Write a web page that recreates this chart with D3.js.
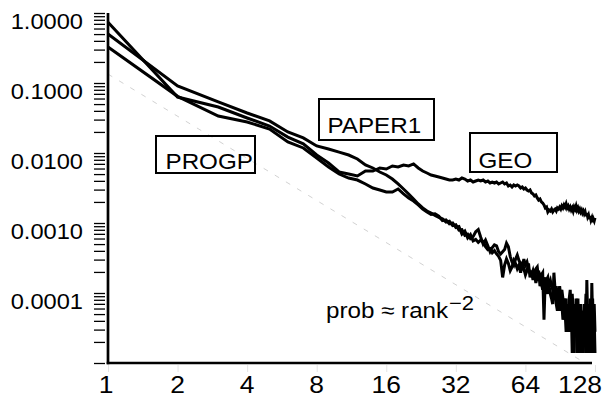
<!DOCTYPE html>
<html>
<head>
<meta charset="utf-8">
<script src="https://cdn.jsdelivr.net/npm/d3@7"></script>
<style>
  body { margin: 0; background: #fff; }
  text { font-family: "Liberation Sans", Arial, Helvetica, sans-serif; fill: #000; }
</style>
</head>
<body>
<svg id="chart" width="607" height="407"></svg>
<script>
// rank 1..128
const ranks = d3.range(1, 129);

const xTicks = [1, 2, 4, 8, 16, 32, 64, 128];
const yDecades = [1, 0.1, 0.01, 0.001, 0.0001];
const yTickLabels = ['1.0000', '0.1000', '0.0100', '0.0010', '0.0001'];

// prob ≈ rank^-2 guide
const refRank = [1, 116];
const refProb = [0.134, 1.0e-5];

const geo = [
  0.74, 0.063, 0.0454, 0.0316, 0.0243, 0.0169, 0.0135, 0.00936, 0.0072, 0.00535,
  0.00501, 0.00469, 0.00553, 0.00553, 0.00611, 0.00591, 0.00652, 0.00631, 0.00674, 0.00652,
  0.00697, 0.00611, 0.00553, 0.00518, 0.00485, 0.00469, 0.00454, 0.00439, 0.00425, 0.00411,
  0.00411, 0.00425, 0.00411, 0.00439, 0.00425, 0.00398, 0.00411, 0.00385, 0.00398, 0.00411,
  0.00398, 0.00411, 0.00385, 0.00398, 0.00373, 0.00385, 0.00373, 0.00385, 0.00361, 0.00373,
  0.00385, 0.00361, 0.00373, 0.00338, 0.00349, 0.00327, 0.00349, 0.00338, 0.00349, 0.00338,
  0.00316, 0.00327, 0.00306, 0.00316, 0.00296, 0.00287, 0.00296, 0.00268, 0.0026, 0.00243,
  0.00251, 0.00228, 0.00213, 0.0022, 0.002, 0.00193, 0.00181, 0.00164, 0.00169, 0.00144,
  0.00153, 0.00148, 0.00158, 0.00144, 0.00153, 0.00158, 0.00148, 0.00164, 0.00158, 0.00169,
  0.00158, 0.00175, 0.00164, 0.00181, 0.00169, 0.00187, 0.00164, 0.00175, 0.00158, 0.00169,
  0.00153, 0.00164, 0.00148, 0.00169, 0.00158, 0.00175, 0.00153, 0.00164, 0.00148, 0.00158,
  0.00144, 0.00153, 0.00139, 0.00148, 0.00135, 0.00144, 0.00126, 0.00139, 0.00122, 0.0013,
  0.00114, 0.00126, 0.0011, 0.00118, 0.00103, 0.00114, 0.00107, 0.00118
];

const paper1 = [
  0.501, 0.0906, 0.0536, 0.0373, 0.0287, 0.02, 0.0164, 0.0126, 0.0114, 0.0103,
  0.00936, 0.00821, 0.00674, 0.00611, 0.00535, 0.00485, 0.00425, 0.00361, 0.00306, 0.0026,
  0.0022, 0.00187, 0.00164, 0.00148, 1.39e-3, 1.28e-3, 1.20e-3, 1.15e-3, 1.03e-3, 1.06e-3,
  9.17e-4, 9.45e-4, 7.92e-4, 8.06e-4, 6.67e-4, 6.95e-4, 5.98e-4, 6.39e-4, 7.51e-4, 8.06e-4,
  6.26e-4, 5.00e-4, 5.70e-4, 4.73e-4, 3.89e-4, 4.45e-4, 4.87e-4, 4.73e-4, 3.89e-4, 3.61e-4,
  3.89e-4, 4.17e-4, 5.14e-4, 4.59e-4, 3.34e-4, 2.78e-4, 2.50e-4, 3.06e-4, 3.48e-4, 2.92e-4,
  2.64e-4, 2.36e-4, 3.06e-4, 2.50e-4, 2.78e-4, 2.22e-4, 1.95e-4, 1.81e-4, 2.09e-4, 1.67e-4,
  2.22e-4, 2.36e-4, 1.53e-4, 1.95e-4, 1.39e-4, 1.11e-4, 1.67e-4, 1.25e-4, 1.53e-4, 1.67e-4,
  1.25e-4, 9.73e-5, 8.34e-5, 6.95e-5, 1.95e-4, 1.11e-4, 6.95e-5, 5.56e-5, 9.73e-5, 1.25e-4,
  8.34e-5, 6.95e-5, 4.17e-5, 8.34e-5, 5.56e-5, 2.78e-5, 6.95e-5, 2.78e-5, 8.34e-5, 1.11e-4,
  4.17e-5, 9.73e-5, 5.56e-5, 1.39e-5, 6.95e-5, 2.78e-5, 5.56e-5, 8.34e-5, 1.39e-5, 4.17e-5,
  6.95e-5, 2.78e-5, 5.56e-5, 1.39e-5, 6.95e-5, 4.17e-5, 9.73e-5, 2.78e-5, 1.39e-5, 5.56e-5,
  2.78e-5, 8.34e-5, 1.39e-5, 1.39e-4, 4.17e-5, 1.39e-5, 6.95e-5, 2.78e-5
];

const progp = [
  0.327, 0.0645, 0.0338, 0.0277, 0.022, 0.0144, 0.0118, 0.00848, 0.00631, 0.00501,
  0.00439, 0.00411, 0.00361, 0.00316, 0.00296, 0.00277, 0.00277, 0.00306, 0.0026, 0.00228,
  0.00206, 0.00181, 0.00158, 0.00144, 1.33e-3, 1.35e-3, 1.25e-3, 1.08e-3, 1.11e-3, 9.73e-4,
  1.00e-3, 8.62e-4, 8.90e-4, 6.95e-4, 7.65e-4, 6.12e-4, 6.81e-4, 5.56e-4, 5.84e-4, 5.28e-4,
  5.70e-4, 5.42e-4, 4.59e-4, 4.17e-4, 4.31e-4, 3.75e-4, 4.03e-4, 3.61e-4, 3.34e-4, 2.92e-4,
  1.67e-4, 2.50e-4, 3.06e-4, 2.64e-4, 2.09e-4, 2.36e-4, 2.92e-4, 2.64e-4, 2.22e-4, 2.50e-4,
  1.95e-4, 2.78e-4, 2.22e-4, 1.81e-4, 2.09e-4, 2.64e-4, 1.67e-4, 2.09e-4, 1.53e-4, 1.95e-4,
  1.39e-4, 1.67e-4, 2.09e-4, 1.25e-4, 1.81e-4, 1.95e-4, 4.17e-5, 1.67e-4, 1.11e-4, 9.73e-5,
  1.39e-4, 1.53e-4, 1.25e-4, 1.11e-4, 8.34e-5, 9.73e-5, 1.25e-4, 8.34e-5, 6.95e-5, 5.56e-5,
  9.73e-5, 1.11e-4, 8.34e-5, 4.17e-5, 6.95e-5, 8.34e-5, 2.78e-5, 5.56e-5, 4.17e-5, 2.78e-5,
  6.95e-5, 1.39e-5, 4.17e-5, 6.95e-5, 2.78e-5, 8.34e-5, 1.39e-5, 4.17e-5, 5.56e-5, 1.39e-5,
  2.78e-5, 5.56e-5, 1.39e-5, 4.17e-5, 2.78e-5, 6.95e-5, 1.39e-5, 1.53e-4, 4.17e-5, 1.39e-5,
  6.95e-5, 2.78e-5, 5.56e-5, 1.39e-5, 8.34e-5, 2.78e-5, 4.17e-5, 1.39e-5
];

const svg = d3.select('#chart');
const SX = 1.1; // glyphs in the original are a bit wide

const x = d3.scaleLog().base(2).domain([1, 128]).range([108, 595]);
const y = d3.scaleLog().domain([1e-5, 1]).range([363, 13]);

function label(str, px, py, size, anchor) {
  return svg.append('text')
    .attr('transform', `translate(${px},${py}) scale(${SX},1)`)
    .attr('font-size', size)
    .attr('text-anchor', anchor || 'start')
    .text(str);
}

// guide line
svg.append('path')
  .datum(refRank.map((r, i) => [r, refProb[i]]))
  .attr('fill', 'none')
  .attr('stroke', '#d2d2d2')
  .attr('stroke-width', 1)
  .attr('stroke-dasharray', '5,8')
  .attr('d', d3.line().x(d => x(d[0])).y(d => y(d[1])));

// y ticks (log minor ticks)
const yAxisG = svg.append('g')
  .attr('transform', 'translate(105,0)')
  .call(d3.axisLeft(y).tickValues(y.ticks()).tickSize(11).tickFormat(''));
yAxisG.select('.domain').remove();
yAxisG.selectAll('.tick line').attr('stroke', '#000').attr('stroke-width', 1.3);

// faint x ticks under the axis
const xAxisG = svg.append('g')
  .attr('transform', 'translate(0,365)')
  .call(d3.axisBottom(x).tickValues(xTicks).tickSize(7).tickFormat(''));
xAxisG.select('.domain').remove();
xAxisG.selectAll('.tick line').attr('stroke', '#e4e4e4');

// axis lines
svg.append('line').attr('x1', 108).attr('x2', 108).attr('y1', y(1)).attr('y2', 364.3)
  .attr('stroke', '#000').attr('stroke-width', 2.7);
svg.append('line').attr('x1', 106.7).attr('x2', 592).attr('y1', 363).attr('y2', 363)
  .attr('stroke', '#000').attr('stroke-width', 2.7);

// tick labels
yDecades.forEach((d, i) => label(yTickLabels[i], 83, y(d) + 15.5, 21.5, 'end'));
xTicks.forEach((t, i) => {
  const shift = i === xTicks.length - 1 ? -15 : (i === 0 ? -2 : 0);
  label(String(t), x(t) + shift, 393, 24, 'middle');
});

// data lines
const line = d3.line().x((d, i) => x(ranks[i])).y(d => y(d));
[geo, paper1, progp].forEach(s => {
  svg.append('path')
    .datum(s)
    .attr('fill', 'none')
    .attr('stroke', '#000')
    .attr('stroke-width', 3)
    .attr('d', line);
});

// boxed labels
const boxes = [
  { name: 'PROGP', x: 156, y: 136, w: 99, h: 37, tx: 165.5, ty: 168.5 },
  { name: 'PAPER1', x: 319, y: 99, w: 115, h: 41, tx: 327.5, ty: 133 },
  { name: 'GEO', x: 470, y: 133, w: 87, h: 39, tx: 478.5, ty: 167.5 }
];
boxes.forEach(b => {
  svg.append('rect')
    .attr('x', b.x).attr('y', b.y).attr('width', b.w).attr('height', b.h)
    .attr('fill', 'none').attr('stroke', '#000').attr('stroke-width', 2);
  label(b.name, b.tx, b.ty, 22);
});

// annotation
label('prob \u2248 rank', 326, 318, 22);
label('\u22122', 449, 310, 20);
</script>
</body>
</html>
